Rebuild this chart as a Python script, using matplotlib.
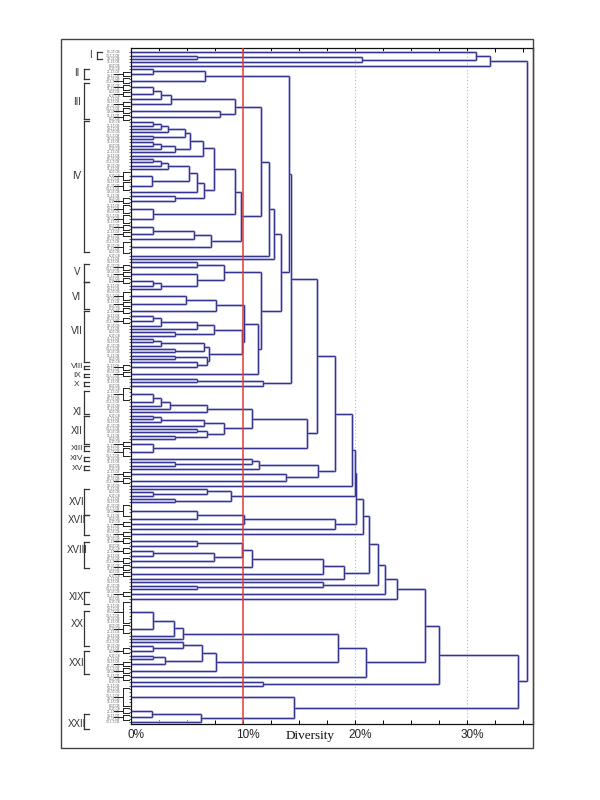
import matplotlib
matplotlib.use("Agg")
import matplotlib.pyplot as plt
from matplotlib.collections import LineCollection
from matplotlib.patches import Rectangle
import matplotlib.transforms as mtransforms

# ------------------------------------------------------------------
# Dendrogram data.  A node is [height(%), child, child, ...];
# an int n is a block of n identical isolates (height 0).
# ------------------------------------------------------------------
grp_I = [32.0, [30.8, 1, [20.6, [5.9, 1, 1], 1]], 1]
grp_II = [6.6, [2.0, 1, 2], 2]
grp_III = [9.3, [3.6, [2.7, [2.0, 2, 2], 1], 2], [7.9, 2, 2]]
grp_IVa = [6.4, [5.3, [4.8, [3.3, [2.7, [2.0, 1, 1], 1], 1], [2.0, 1, 1]],
                 [3.9, [2.7, [2.0, 1, 1], 1], 1]], 1]
grp_IVb = [6.5, [5.9, [5.2, [3.3, [2.7, [2.0, 1, 1], 1], 1], [1.9, 3, 3]], 1],
           [3.9, 1, 2]]
grp_IVc = [2.0, 3, 3]
grp_IVd = [7.1, [5.6, [2.0, 2, 2], 1], 4]
grp_IV = [9.8, [9.3, [7.4, grp_IVa, grp_IVb], grp_IVc], grp_IVd]
grp_V = [8.3, [5.9, 1, 2], [5.9, 2, [2.7, [2.0, 2, 1], 1]]]
grp_VI = [7.6, [4.9, 3, 2], 2]
grp_VIIa = [7.4, [5.9, [2.7, [2.0, 1, 2], 1], 1], [3.9, 1, 1]]
grp_VIIb = [7.0, [6.5, [2.7, [2.0, 1, 1], 1], [3.9, 1, 1]],
            [6.8, [3.9, 1, 1], [5.9, 1, 2]]]
grp_VII = [9.9, grp_VIIa, grp_VIIb]
grp_X = [11.8, [5.9, 1, 1], 1]
grp_XI = [6.8, [3.5, [2.7, [2.0, 4, 1], 1], 1], 1]
grp_XII = [8.3, [6.5, [2.7, [2.0, 1, 1], 1], 1], [6.8, [5.9, 1, 1], [3.9, 1, 1]]]
grp_XIII = [2.0, 2, 3]
grp_XIV_XV = [11.4, [10.8, 1, [3.9, 1, 1]], 1]
grp_b138 = [13.8, 2, 2]
grp_XVI = [8.9, [6.8, 1, [2.0, 1, 1]], [3.9, 1, 1]]
grp_XVII = [18.2, [10.1, [5.9, 4, 1], 2], 1]
grp_XVIII = [9.9, [5.9, 2, 1], [7.4, [2.0, 2, 1], 2]]
grp_b171 = [17.1, 1, [5.9, 1, 1]]
grp_XX = [4.6, [3.8, [2.0, 7, 3], 1], 1]
grp_XXI = [7.6, [6.3, [4.6, 1, [2.0, 1, 2]], [3.0, [2.0, 1, 1], 2]], 2]
grp_b118 = [11.8, 1, 1]
grp_XXII = [14.5, 6, [6.2, [1.9, 2, 2], 1]]

# backbone merges (heights in %)
blk_B2 = [11.6, grp_V, [11.3, [10.1, grp_VI, grp_VII], 2]]
blk_A = [13.4, [12.8, [12.3, [11.6, grp_III, grp_IV], 1], 1], blk_B2]
node_A = [14.1, grp_II, blk_A]
node_B = [14.3, node_A, grp_X]
node_D = [15.7, [10.8, grp_XI, grp_XII], grp_XIII]
node_C = [16.6, node_B, node_D]
node_F = [16.7, grp_XIV_XV, grp_b138]
node_E = [18.2, node_C, node_F]
node_G = [19.7, node_E, 1]
node_H = [20.0, node_G, grp_XVI]
node_I2 = [20.1, node_H, grp_XVII]
node_J = [20.7, node_I2, 2]
node_N19 = [19.0, [17.1, [10.8, grp_XVIII, 2], 2], 1]
node_K = [21.2, node_J, node_N19]
node_L = [22.0, node_K, grp_b171]
node_M = [22.7, node_L, 2]
node_N = [23.7, node_M, 1]
node_Q = [18.5, grp_XX, grp_XXI]
node_P = [21.0, node_Q, 2]
node_O = [26.2, node_N, node_P]
node_R = [27.5, node_O, grp_b118]
node_T = [34.5, node_R, grp_XXII]
root = [35.3, grp_I, node_T]

# cluster annotations: name, first leaf, last leaf, label position (leaf idx)
cluster_names = ["I", "II", "III", "IV", "V", "VI", "VII", "VIII", "IX", "X",
                 "XI", "XII", "XIII", "XIV", "XV", "XVI", "XVII", "XVIII",
                 "XIX", "XX", "XXI", "XXII"]
cluster_first = [0, 5, 9.3, 20.5, 63.5, 69, 77.5, 94.0, 96.5, 99.0, 101.5,
                 109, 118.0, 121.3, 124.0, 131, 138.7, 147, 162, 167.5, 179.6, 198.4]
cluster_last = [2, 8, 20, 60, 69, 77, 93, 95.0, 97.5, 100.0, 108.5, 117.5,
                119.5, 122.5, 125.3, 138.7, 144.8, 154.8, 165.4, 178, 186.6, 203]
cluster_label_pos = [0.8, 6.3, 15, 37, 66, 73.5, 83.5, 94.4, 97.0, 99.6, 107.8,
                     113.5, 118.8, 121.9, 124.8, 134.8, 140.2, 149.3, 163.5,
                     171.4, 183.3, 201.4]
cluster_label_size = [7, 7, 7, 7, 7, 7, 7, 6, 6, 6, 7, 7, 6, 6, 6, 7, 7, 7,
                      7, 7, 7, 7]

leaf_codes = ["85-1T-CB", "13-1-T-CB", "19-1T-CB", "11-1T-CB", "8-1T-CB",
              "6-1T-CB", "21-1T-CB", "14-1T-CB"]

x_ticks = [0, 10, 20, 30]
x_tick_labels = ["0%", "10%", "20%", "30%"]
cut_line = 10
grid_lines = [20, 30]

# ------------------------------------------------------------------
segs = []
groups = []
counter = [0]


def walk(node):
    if isinstance(node, int):
        k = counter[0]
        counter[0] += node
        if node > 1:
            groups.append((k, k + node - 1))
        return (k + (node - 1) / 2.0, 0.0)
    h = node[0]
    kids = [walk(c) for c in node[1:]]
    for (y, ch) in kids:
        segs.append([(ch, y), (h, y)])
    ys = [y for y, _ in kids]
    segs.append([(h, min(ys)), (h, max(ys))])
    return ((ys[0] + ys[-1]) / 2.0, h)


walk(root)
n_leaves = counter[0]

W, H = 600, 800
fig = plt.figure(figsize=(6, 8), dpi=100)
fig.patch.set_facecolor("white")

ax_l, ax_r, ax_t, ax_b = 131.0, 533.3, 48.0, 724.0
ax = fig.add_axes([ax_l / W, 1 - ax_b / H, (ax_r - ax_l) / W, (ax_b - ax_t) / H])
px_per_pct = 11.21
xmax = (ax_r - ax_l) / px_per_pct
ax.set_xlim(0, xmax)
first_y, last_y = 52.3, 722.3
d = (last_y - first_y) / (n_leaves - 1)
ax.set_ylim((n_leaves - 1) + (ax_b - last_y) / d, -(first_y - ax_t) / d)


def pxx(px):
    return (px - ax_l) / px_per_pct


# grid + cut line
for g in grid_lines:
    ax.axvline(g, color="#b8b8b8", lw=0.8, ls=(0, (1, 2)), zorder=1)
ax.axvline(cut_line, color="#e23b3b", lw=1.1, zorder=4)

# dendrogram lines
ax.add_collection(LineCollection(segs, colors="#c3c3e6", linewidths=2.0, zorder=2))
ax.add_collection(LineCollection(segs, colors="#36368e", linewidths=0.85, zorder=3))

# axes styling
for side in ["top", "bottom", "left", "right"]:
    ax.spines[side].set_color("#111111")
    ax.spines[side].set_linewidth(0.9)
ax.set_xticks(x_ticks)
ax.set_xticklabels([])
ax.set_xticks([i * 2.5 for i in range(15)], minor=True)
ax.tick_params(axis="x", which="both", direction="in", length=3, width=0.7,
               top=True, bottom=True, labelbottom=False)
ax.set_yticks(range(n_leaves))
ax.set_yticklabels([])
ax.tick_params(axis="y", direction="out", length=1.8, width=0.5, colors="#222222")

off = mtransforms.ScaledTranslation(5 / 100, -11.5 / 100, fig.dpi_scale_trans)
for xv, lab in zip(x_ticks, x_tick_labels):
    ax.text(xv, 0, lab, transform=ax.get_xaxis_transform() + off, ha="center",
            va="center", fontsize=8.5, family="Liberation Sans", color="#222222")
ax.text(15.5, 0, "Diversity", transform=ax.get_xaxis_transform() + off,
        ha="center", va="center", fontsize=9.5, family="Liberation Serif",
        color="#111111")

# leaf labels (tiny)
for i in range(n_leaves):
    ax.text(pxx(120), i, leaf_codes[i % len(leaf_codes)], ha="right", va="center",
            fontsize=2.2, color="#5a5a5a", clip_on=False)

# identical-isolate markers
for a, b in groups:
    kw = dict(color="#222222", lw=0.7, clip_on=False, zorder=5)
    ax.plot([pxx(123), pxx(123)], [a - 0.2, b + 0.2], **kw)
    ax.plot([pxx(123), pxx(129)], [a - 0.2, a - 0.2], **kw)
    ax.plot([pxx(123), pxx(129)], [b + 0.2, b + 0.2], **kw)
    ax.plot([pxx(114), pxx(123)], [(a + b) / 2, (a + b) / 2], **kw)

# cluster brackets and roman labels
for name, a, b, lp, fs in zip(cluster_names, cluster_first, cluster_last,
                              cluster_label_pos, cluster_label_size):
    kw = dict(color="#333333", lw=0.9, clip_on=False)
    bx = 84.0 if name != "I" else 97.0
    ax.plot([pxx(bx), pxx(bx)], [a, b], **kw)
    ax.plot([pxx(bx), pxx(bx + 5)], [a, a], **kw)
    ax.plot([pxx(bx), pxx(bx + 5)], [b, b], **kw)
    ax.text(pxx(bx - 7), lp, name, ha="center", va="center", fontsize=fs,
            family="Liberation Sans", color="#333333", clip_on=False)

# outer frame
fig.add_artist(Rectangle((61 / W, 1 - 748.3 / H), (533.3 - 61) / W, (748.3 - 39) / H,
                         transform=fig.transFigure, fill=False, lw=1.0, ec="#444444"))

fig.savefig("out.png", dpi=100, facecolor="white")
